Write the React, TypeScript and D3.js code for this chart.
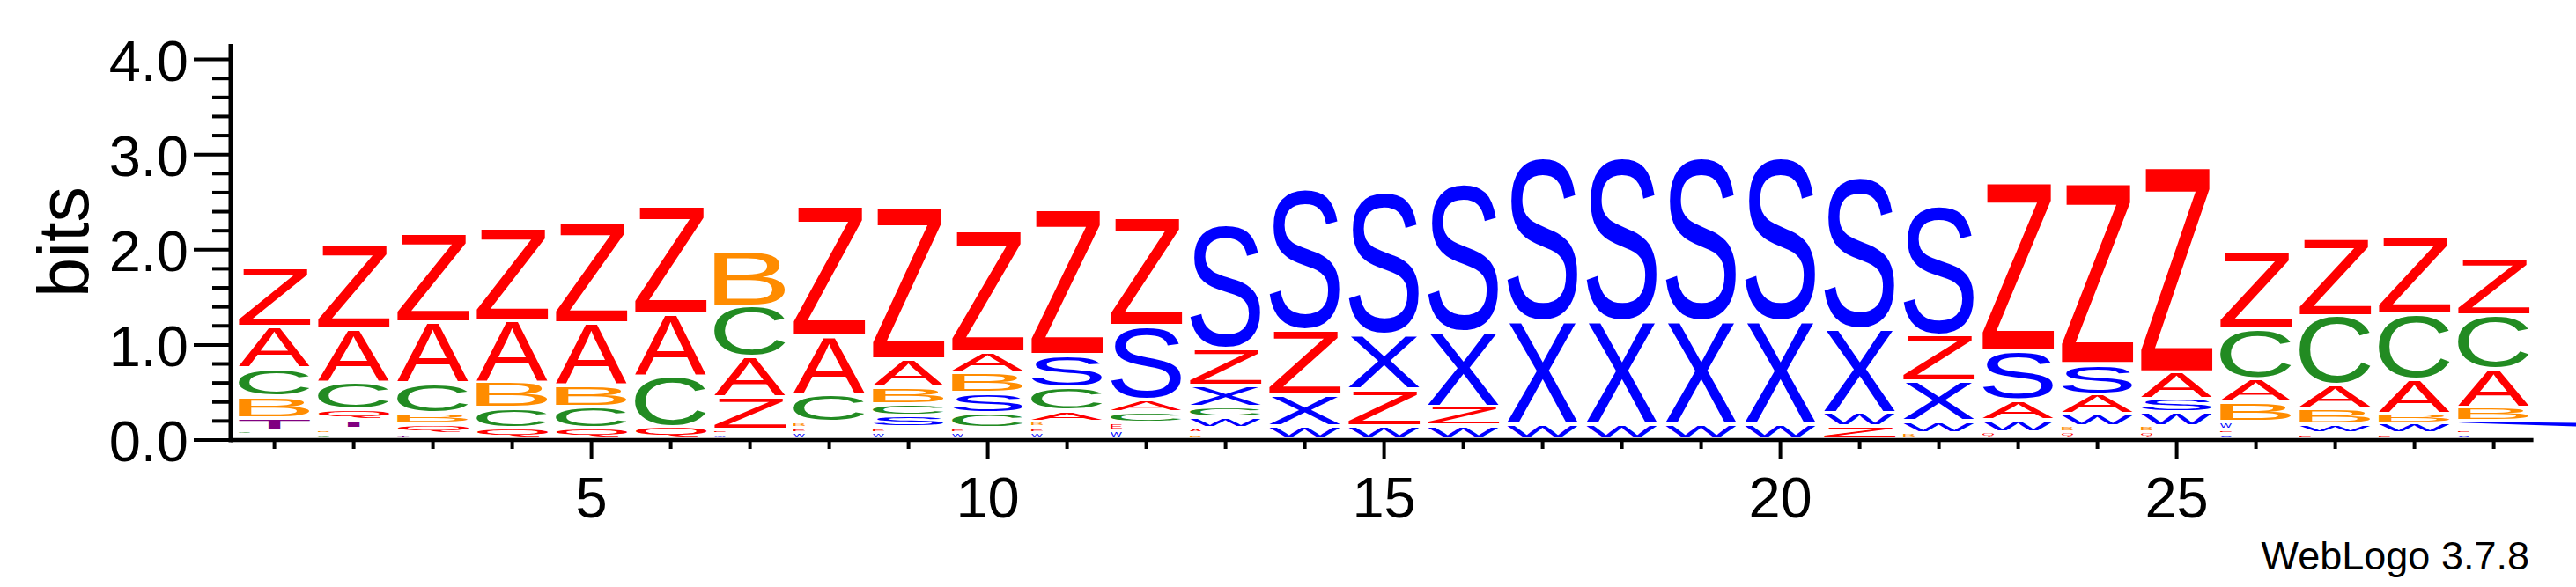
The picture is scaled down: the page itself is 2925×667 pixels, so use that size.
import React, { useMemo } from 'react';
import * as d3 from 'd3';

// ---------- data (bits per letter at each position 1..29) ----------
const positions = [1,2,3,4,5,6,7,8,9,10,11,12,13,14,15,16,17,18,19,20,21,22,23,24,25,26,27,28,29];
const letters = ['A','B','C','E','G','Q','S','T','W','X','Z'];

const bitsA = [0.437,0.553,0.637,0.649,0.655,0.658,0.424,0.605,0.296,0.217,0.111,0.133,0.057,0,0,0,0,0,0,0,0,0,0.205,0.208,0.279,0.245,0.247,0.355,0.408];
const bitsB = [0.227,0.052,0.106,0.270,0.230,0,0.586,0.060,0.174,0.214,0.062,0,0.053,0,0,0,0,0,0,0,0,0.060,0,0.066,0.068,0.197,0.166,0.108,0.140];
const bitsC = [0.296,0.291,0.319,0.210,0.225,0.535,0.530,0.293,0.125,0.155,0.239,0.107,0.114,0,0,0,0,0,0,0,0,0,0,0,0,0.526,0.728,0.683,0.562];
const bitsE = [0.040,0,0,0,0,0,0.048,0.058,0.060,0.058,0.059,0.088,0,0,0,0,0,0,0,0,0,0,0,0,0,0.051,0.051,0.051,0.053];
const bitsG = [0.046,0.048,0,0,0,0,0,0,0,0,0,0,0,0,0,0,0,0,0,0,0,0,0,0,0,0,0,0,0];
const bitsQ = [0,0.105,0.103,0.112,0.105,0.120,0,0,0,0,0,0,0,0,0,0,0,0,0,0,0,0,0.062,0.062,0.066,0,0,0,0];
const bitsS = [0,0,0,0,0,0,0,0,0.121,0.210,0.351,0.773,1.321,1.503,1.527,1.586,1.741,1.741,1.741,1.741,1.614,1.385,0.521,0.322,0.143,0.046,0,0,0.049];
const bitsT = [0.130,0.100,0.053,0,0,0,0,0,0,0,0,0,0,0,0,0,0,0,0,0,0,0,0,0,0,0,0,0,0];
const bitsW = [0,0,0,0,0,0,0.045,0.055,0.056,0.055,0.057,0.080,0.108,0.131,0.131,0.136,0.147,0.147,0.147,0.147,0.137,0.122,0.131,0.127,0.139,0.083,0.097,0.103,0.086];
const bitsX = [0,0,0,0,0,0,0,0,0,0,0,0,0.223,0.319,0.575,0.785,1.079,1.079,1.079,1.079,0.876,0.420,0,0,0,0,0,0,0];
const bitsZ = [0.618,0.895,0.940,0.973,1.058,1.131,0.341,1.371,1.598,1.285,1.531,1.135,0.390,0.683,0.383,0.198,0,0,0,0,0.133,0.481,1.773,1.898,2.157,0.815,0.823,0.821,0.605];

const yTicksMajor = [0, 1, 2, 3, 4];
const yTickLabels = ['0.0', '1.0', '2.0', '3.0', '4.0'];
const xTickLabels = [5, 10, 15, 20, 25];

const series: Record<string, number[]> = {
  A: bitsA, B: bitsB, C: bitsC, E: bitsE, G: bitsG, Q: bitsQ,
  S: bitsS, T: bitsT, W: bitsW, X: bitsX, Z: bitsZ,
};

// ---------- styles ----------
const COLORS: Record<string, string> = {
  A: '#ff0000', Z: '#ff0000', E: '#ff0000', Q: '#ff0000',
  C: '#228b22', G: '#228b22',
  B: '#ff8c00',
  S: '#0000ff', X: '#0000ff', W: '#0000ff',
  T: '#800080',
};
const FONT = '"Liberation Sans", Arial, Helvetica, sans-serif';
const W = 2925, H = 667;

function useMetrics() {
  return useMemo(() => {
    const c = document.createElement('canvas');
    const ctx = c.getContext('2d')!;
    ctx.font = `100px ${FONT}`;
    const out: Record<string, { l: number; r: number; a: number; d: number }> = {};
    for (const ch of letters) {
      const m = ctx.measureText(ch);
      out[ch] = {
        l: m.actualBoundingBoxLeft,
        r: m.actualBoundingBoxRight,
        a: m.actualBoundingBoxAscent,
        d: m.actualBoundingBoxDescent,
      };
    }
    return out;
  }, []);
}

export default function App() {
  const metrics = useMetrics();
  const y = d3.scaleLinear().domain([0, Math.log2(18)]).range([500, 49.2]);
  const x = d3.scaleLinear().domain([0.5, 29.5]).range([266.6, 2876.6]);
  const pxPerBit = y(0) - y(1);
  const halfW = 40.5;

  const glyphs: React.ReactNode[] = [];
  positions.forEach((p, i) => {
    const stack = letters
      .map((L) => ({ L, v: series[L][i] }))
      .filter((d) => d.v > 0)
      .sort((a, b) => a.v - b.v);
    let cum = 0;
    stack.forEach(({ L, v }) => {
      const boxPx = v * pxPerBit;
      const yTop = y(cum + v);
      let yBot = y(cum) - 4;
      if (yBot - yTop < 1) yBot = yTop + 1;
      const cx = x(p);
      const isLast = i === positions.length - 1;
      if (isLast && L === 'W') {
        const mid = (y(cum) - 2 + y(cum + v) - 2) / 2;
        const x0 = cx - halfW;
        glyphs.push(
          <path key={`${p}-${L}`} fill={COLORS[L]}
            d={`M${x0},${mid - 3.3} L${W},${mid - 1.8} L${W},${mid + 2.2} L${x0},${mid - 2.2} Z`} />
        );
        cum += v;
        return;
      }
      const narrow = boxPx < 10;
      const x0 = cx - halfW;
      const x1 = narrow ? x0 + 13 : cx + halfW;
      const m = metrics[L];
      const sx = (x1 - x0) / (m.l + m.r);
      const sy = (yBot - yTop) / (m.a + m.d);
      glyphs.push(
        <text key={`${p}-${L}`} x={0} y={0} fontSize={100} fontFamily={FONT}
          fill={COLORS[L]}
          transform={`translate(${x0 + m.l * sx},${yTop + m.a * sy}) scale(${sx},${sy})`}>
          {L}
        </text>
      );
      cum += v;
    });
  });

  const minorTicks = d3.range(0, 4.01, 0.2).filter((t) => Math.abs(t - Math.round(t)) > 1e-6);

  return (
    <svg width={W} height={H} style={{ position: 'absolute', left: 0, top: 0, display: 'block', background: '#fff' }}>
      <rect width={W} height={H} fill="#fff" />
      {glyphs}
      {/* y axis */}
      <line x1={262} x2={262} y1={50} y2={502.5} stroke="#000" strokeWidth={5} />
      {yTicksMajor.map((t) => (
        <line key={`ym${t}`} x1={220} x2={262} y1={y(t)} y2={y(t)} stroke="#000" strokeWidth={4} />
      ))}
      {minorTicks.map((t) => (
        <line key={`yn${t.toFixed(1)}`} x1={241} x2={262} y1={y(t)} y2={y(t)} stroke="#000" strokeWidth={4} />
      ))}
      {yTicksMajor.map((t, k) => (
        <text key={`yl${t}`} x={214} y={y(t) + 24} textAnchor="end" fontSize={65} fontFamily={FONT} fill="#000">
          {yTickLabels[k]}
        </text>
      ))}
      <text transform={`translate(100,275) rotate(-90)`} textAnchor="middle" fontSize={81} fontFamily={FONT} fill="#000">bits</text>
      {/* x axis */}
      <line x1={262} x2={x(29.5)} y1={500} y2={500} stroke="#000" strokeWidth={4.5} />
      {positions.map((p) => (
        <line key={`xt${p}`} x1={x(p)} x2={x(p)} y1={500} y2={xTickLabels.includes(p) ? 521.7 : 510}
          stroke="#000" strokeWidth={4} />
      ))}
      {xTickLabels.map((p) => (
        <text key={`xl${p}`} x={x(p)} y={588} textAnchor="middle" fontSize={65} fontFamily={FONT} fill="#000">
          {p}
        </text>
      ))}
      <text x={2872} y={647} textAnchor="end" fontSize={45} fontFamily={FONT} fill="#000">WebLogo 3.7.8</text>
    </svg>
  );
}
